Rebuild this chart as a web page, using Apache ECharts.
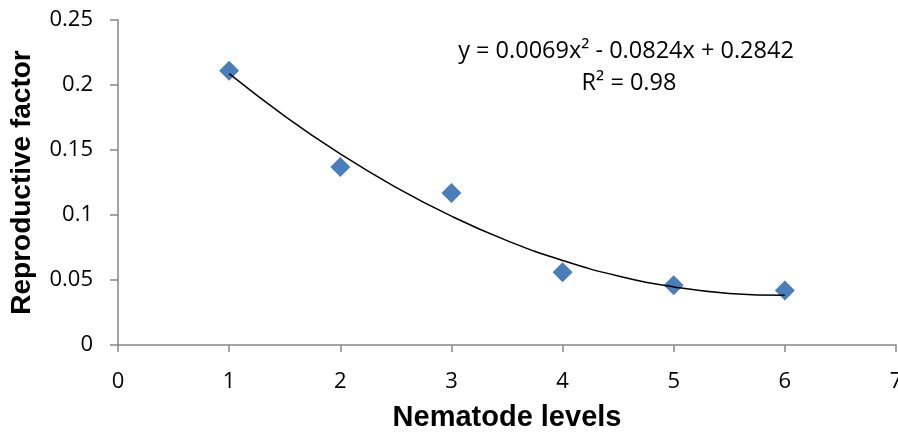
<!DOCTYPE html>
<html>
<head>
<meta charset="utf-8">
<script src="https://cdn.jsdelivr.net/npm/echarts@6/dist/echarts.min.js"></script>
<style>html,body{margin:0;padding:0;background:#fff}#c{width:898px;height:435px}</style>
</head>
<body>
<div id="c"></div>
<script>
const levels = [1, 2, 3, 4, 5, 6];
const factor = [0.211, 0.137, 0.117, 0.056, 0.046, 0.042];
const trendX = [1, 1.5, 2, 2.5, 3, 3.5, 4, 4.5, 5, 5.5, 6];
const trendY = [0.2087, 0.1761, 0.1470, 0.1213, 0.0991, 0.0803, 0.0650, 0.0531, 0.0447, 0.0397, 0.0382];
const equationText = 'y = 0.0069x² - 0.0824x + 0.2842';
const r2Text = 'R² = 0.98';

const chart = echarts.init(document.getElementById('c'));
const axisColor = '#868686';
const tickFont = { fontFamily: 'Open Sans', fontSize: 22, color: '#000' };
chart.setOption({
  animation: false,
  grid: { left: 118, right: 2, top: 20, bottom: 90, outerBoundsMode: 'none', containLabel: false },
  xAxis: {
    type: 'value', min: 0, max: 7, interval: 1,
    name: 'Nematode levels', nameLocation: 'middle', nameGap: 58,
    nameTextStyle: { fontFamily: 'Liberation Sans', fontWeight: 'bold', fontSize: 29, color: '#000' },
    axisLine: { show: true, lineStyle: { color: axisColor, width: 1.5 } },
    axisTick: { show: true, length: 7, lineStyle: { color: axisColor, width: 1.5 } },
    axisLabel: Object.assign({ margin: 26 }, tickFont),
    splitLine: { show: false }
  },
  yAxis: {
    type: 'value', min: 0, max: 0.25, interval: 0.05,
    name: 'Reproductive factor', nameLocation: 'middle', nameGap: 82, nameRotate: 90,
    nameTextStyle: { fontFamily: 'Liberation Sans', fontWeight: 'bold', fontSize: 28, color: '#000' },
    axisLine: { show: true, lineStyle: { color: axisColor, width: 1.5 } },
    axisTick: { show: true, length: 8, lineStyle: { color: axisColor, width: 1.5 } },
    axisLabel: Object.assign({ margin: 25, formatter: v => String(+v.toFixed(2)) }, tickFont),
    splitLine: { show: false }
  },
  graphic: [
    { type: 'text', x: 626, y: 51, style: { text: equationText, fontFamily: 'Open Sans', fontSize: 23.5, fill: '#000', align: 'center', verticalAlign: 'middle' } },
    { type: 'text', x: 629, y: 83, style: { text: r2Text, fontFamily: 'Open Sans', fontSize: 23.5, fill: '#000', align: 'center', verticalAlign: 'middle' } }
  ],
  series: [
    {
      type: 'line', data: trendX.map((x, i) => [x, trendY[i]]), smooth: true,
      symbol: 'none', lineStyle: { color: '#000', width: 1.5 }, z: 3
    },
    {
      type: 'scatter', data: levels.map((x, i) => [x, factor[i]]),
      symbol: 'diamond', symbolSize: 20, itemStyle: { color: '#4a7ebb', opacity: 1 }, z: 2
    }
  ]
});
</script>
</body>
</html>
